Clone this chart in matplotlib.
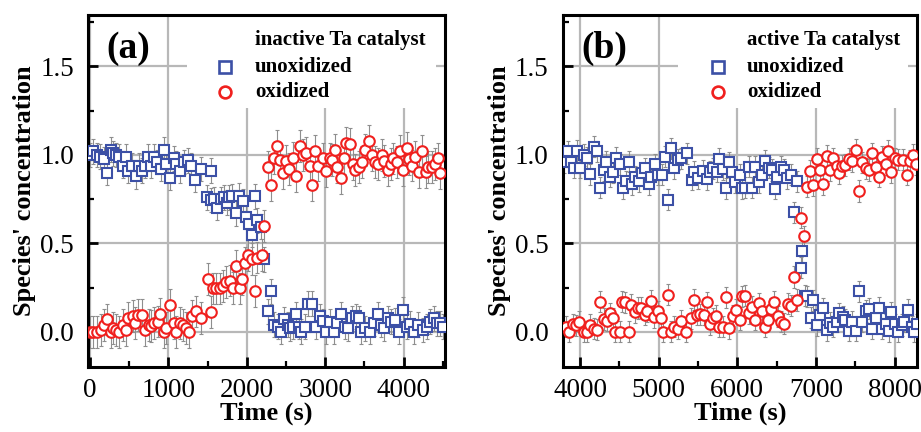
import numpy as np
import matplotlib
matplotlib.use('Agg')
import matplotlib.pyplot as plt
from matplotlib.patches import Rectangle
from matplotlib.ticker import MultipleLocator

plt.rcParams['font.family'] = ['Liberation Serif', 'DejaVu Serif']

# ---- panel (a): inactive catalyst ----
a_unox_t = [0, 40, 90, 130, 180, 220, 265, 300, 335, 375, 420, 460, 490, 540, 585, 630, 670, 705, 740, 780,
            820, 860, 900, 950, 975, 1020, 1070, 1100, 1145, 1200, 1250, 1290, 1345, 1420, 1545,
            1495, 1540, 1580, 1625, 1665, 1710, 1750, 1775, 1815, 1860, 1900, 1945, 1985, 2025, 2065, 2105,
            2135, 2180, 2220, 2265, 2310,
            2350, 2393, 2436, 2479, 2521, 2550, 2585, 2628, 2660, 2692, 2744, 2778, 2833, 2876, 2927, 2970,
            3013, 3055, 3110, 3153, 3196, 3247, 3290, 3341, 3397, 3427, 3461, 3512, 3568, 3623, 3666, 3709,
            3751, 3794, 3837, 3888, 3939, 3986, 4037, 4080, 4136, 4187, 4242, 4294, 4336, 4392, 4422, 4464, 4500]
a_unox_v = [1.00, 1.02, 1.00, 0.99, 0.975, 0.90, 1.03, 1.01, 1.00, 0.99, 0.94, 0.99, 0.91, 0.94, 0.88, 0.94,
            0.91, 0.94, 0.99, 0.94, 0.99, 0.96, 0.92, 1.03, 0.95, 0.87, 0.98, 0.95, 0.91, 0.96, 0.97, 0.94,
            0.86, 0.92, 0.91,
            0.76, 0.745, 0.75, 0.70, 0.75, 0.76, 0.73, 0.76, 0.765, 0.67, 0.77, 0.74, 0.65, 0.61, 0.55, 0.765,
            0.63, 0.595, 0.41, 0.115, 0.23,
            0.04, 0.03, 0.0, 0.07, 0.04, 0.02, 0.03, 0.10, 0.03, 0.0, 0.03, 0.16, 0.16, 0.03, 0.087, 0.06,
            0.0, 0.058, 0.0, 0.049, 0.10, 0.03, 0.02, 0.077, 0.087, 0.077, 0.0, 0.02, 0.0, 0.049, 0.10, 0.04,
            0.02, 0.077, 0.058, 0.065, 0.0, 0.124, 0.03, 0.045, 0.0, 0.04, 0.01, 0.03, 0.058, 0.077, 0.049,
            0.049, 0.03]

a_ox_t = [0, 43, 94, 137, 179, 222, 265, 299, 333, 376, 419, 462, 491, 543, 577, 607, 662, 705, 748, 782,
          821, 863, 897, 949, 974, 1017, 1068, 1103, 1145, 1188, 1231, 1269, 1303, 1346, 1419, 1547,
          1509, 1568, 1611, 1654, 1697, 1739, 1782, 1825, 1868, 1910, 1944, 1979, 2021, 2064, 2107, 2124,
          2192, 2222,
          2265, 2308, 2350, 2380, 2423, 2466, 2500, 2543, 2594, 2628, 2679, 2722, 2756, 2799, 2833, 2868,
          2906, 2970, 3013, 3055, 3085, 3119, 3153, 3196, 3239, 3269, 3311, 3354, 3384, 3427, 3469, 3512,
          3555, 3597, 3632, 3674, 3717, 3751, 3794, 3837, 3866, 3909, 3952, 3994, 4037, 4067, 4110, 4144,
          4195, 4238, 4281, 4315, 4358, 4400, 4434, 4464]
a_ox_v = [0.0, 0.0, 0.0, 0.01, 0.04, 0.07, 0.0, 0.02, 0.01, 0.0, 0.04, 0.01, 0.077, 0.087, 0.049, 0.096,
          0.096, 0.01, 0.04, 0.034, 0.049, 0.058, 0.10, 0.0, 0.02, 0.15, 0.049, 0.0, 0.049, 0.04, 0.02, 0.0,
          0.087, 0.115, 0.077, 0.11,
          0.30, 0.245, 0.245, 0.245, 0.26, 0.28, 0.29, 0.25, 0.37, 0.245, 0.30, 0.39, 0.435, 0.41, 0.23, 0.42,
          0.435, 0.60,
          0.93, 0.83, 0.98, 1.05, 0.97, 0.90, 0.966, 0.92, 0.985, 0.88, 1.05, 1.0, 1.01, 0.94, 0.83, 1.02,
          0.94, 0.98, 0.91, 0.98, 0.97, 1.03, 0.93, 0.87, 0.98, 1.07, 1.06, 0.95, 0.915, 0.93, 0.96, 1.03,
          1.08, 1.0, 0.96, 0.95, 1.0, 0.966, 0.915, 0.95, 0.98, 0.96, 1.02, 0.915, 1.04, 0.976, 0.94, 0.99,
          0.905, 1.02, 0.905, 0.93, 0.93, 0.95, 0.98, 0.90]

# ---- panel (b): active catalyst ----
b_unox_t = [3800, 3850, 3884, 3927, 3961, 4004, 4046, 4089, 4132, 4174, 4217, 4260, 4303, 4332, 4375, 4418,
            4461, 4503, 4546, 4589, 4623, 4661, 4704, 4747, 4789, 4832, 4875, 4909, 4952, 4994, 5037, 5080,
            5122, 5157, 5199, 5242,
            5290, 5363, 5418, 5448, 5504, 5559, 5611, 5653, 5696, 5739, 5773, 5816, 5858, 5901, 5931, 5974,
            6029, 6059, 6102, 6144, 6187, 6230, 6272, 6315, 6358, 6401, 6443, 6486, 6507, 6550, 6593, 6635,
            6678, 6721, 6764, 6808, 6828, 6857,
            6893, 6936, 6966, 7009, 7051, 7094, 7137, 7180, 7222, 7265, 7299, 7342, 7376, 7419, 7461, 7504,
            7547, 7589, 7632, 7675, 7718, 7760, 7803, 7846, 7888, 7931, 7961, 8004, 8046, 8089, 8119, 8174,
            8217, 8247, 8281]
b_unox_v = [0.96, 1.02, 0.962, 0.928, 1.022, 0.928, 1.0, 0.985, 0.89, 1.047, 1.02, 0.815, 0.915, 0.962,
            0.877, 0.902, 0.985, 0.947, 0.811, 0.85, 0.962, 0.834, 0.877, 0.85, 0.896, 0.924, 0.834, 0.877,
            0.947, 0.887, 0.887, 0.99, 0.746, 1.038, 0.924, 0.972,
            0.981, 1.009, 0.859, 0.906, 0.868, 0.909, 0.864, 0.906, 0.924, 0.906, 0.977, 0.92, 0.811, 0.958,
            0.902, 0.845, 0.887, 0.811, 0.815, 0.934, 0.815, 0.934, 0.845, 0.887, 0.966, 0.928, 0.915, 0.808,
            0.877, 0.934, 0.915, 0.868, 0.887, 0.676, 0.85, 0.363, 0.457, 0.205,
            0.20, 0.08, 0.178, 0.039, 0.095, 0.132, 0.01, 0.05, 0.03, 0.058, 0.105, 0.086, 0.067, 0.006,
            0.058, 0.006, 0.228, 0.058, 0.118, 0.13, 0.017, 0.077, 0.137, 0.017, 0.043, 0.002, 0.111, 0.043,
            0.0, 0.039, 0.058, 0.124, 0.03, 0.0, 0.043]

b_ox_t = [3820, 3863, 3905, 3948, 3991, 4046, 4089, 4132, 4174, 4217, 4260, 4303, 4345, 4375, 4418, 4448,
          4503, 4533, 4576, 4619, 4653, 4695, 4738, 4781, 4823, 4858, 4900, 4943, 4994, 5028, 5058, 5114,
          5157, 5199, 5242,
          5290, 5354, 5406, 5448, 5482, 5525, 5576, 5611, 5653, 5696, 5730, 5773, 5816, 5858, 5901, 5944,
          5986, 6029, 6059, 6102, 6144, 6187, 6230, 6272, 6315, 6358, 6388, 6430, 6473, 6516, 6551, 6594,
          6645, 6679, 6721, 6765, 6808, 6850,
          6893, 6923, 6966, 7009, 7051, 7094, 7137, 7180, 7222, 7265, 7299, 7333, 7376, 7419, 7461, 7504,
          7547, 7589, 7632, 7675, 7718, 7760, 7803, 7846, 7888, 7918, 7961, 8004, 8046, 8102, 8162, 8196,
          8238, 8272]
b_ox_v = [0.030, 0.0, 0.043, 0.036, 0.058, 0.0, 0.0, 0.039, 0.017, 0.011, 0.171, 0.073, 0.062, 0.105,
          0.077, 0.0, 0.0, 0.171, 0.167, 0.0, 0.153, 0.111, 0.134, 0.137, 0.096, 0.115, 0.175, 0.081, 0.115,
          0.077, 0.0, 0.209, 0.0, 0.030, 0.017,
          0.062, 0.0, 0.077, 0.181, 0.096, 0.1, 0.096, 0.167, 0.043, 0.077, 0.092, 0.03, 0.03, 0.194, 0.021,
          0.092, 0.124, 0.068, 0.2, 0.205, 0.105, 0.143, 0.068, 0.162, 0.115, 0.03, 0.068, 0.13, 0.171,
          0.087, 0.058, 0.045, 0.158, 0.147, 0.31, 0.18, 0.646, 0.54,
          0.82, 0.91, 0.83, 0.977, 0.915, 0.834, 0.996, 0.915, 0.981, 0.94, 0.896, 0.94, 0.943, 0.977, 0.966,
          1.028, 0.796, 0.958, 0.924, 0.915, 1.009, 0.934, 0.877, 0.99, 0.947, 1.022, 0.902, 0.981, 0.972,
          0.972, 0.889, 0.966, 1.0, 0.947]

# error bar half-widths (roughly constant per series)
a_unox_err, a_ox_err = 0.07, 0.09
b_unox_err, b_ox_err = 0.06, 0.06

BLUE = '#3c50a6'
RED = '#f0201e'
GRAY = '#8e8e8e'


def draw_panel(ax, ut, uv, ue, ot, ov, oe, xlim, letter, title, leg_x0, mk_x, txt_x):
    ax.errorbar(ut, uv, yerr=ue, fmt='none', ecolor=GRAY, elinewidth=0.8,
                capsize=1.5, capthick=0.8, zorder=2)
    ax.errorbar(ot, ov, yerr=oe, fmt='none', ecolor=GRAY, elinewidth=0.8,
                capsize=1.5, capthick=0.8, zorder=2)
    ax.plot(ut, uv, ls='none', marker='s', ms=7, mfc='white', mec=BLUE, mew=1.5, zorder=3)
    ax.plot(ot, ov, ls='none', marker='o', ms=7.6, mfc='white', mec=RED, mew=1.5, zorder=4)

    ax.set_xlim(*xlim)
    ax.set_ylim(-0.2, 1.79)
    ax.xaxis.set_major_locator(MultipleLocator(1000))
    ax.xaxis.set_minor_locator(MultipleLocator(500))
    ax.yaxis.set_major_locator(MultipleLocator(0.5))
    ax.yaxis.set_minor_locator(MultipleLocator(0.25))
    ax.tick_params(which='major', direction='in', length=7, width=2, labelsize=19.5)
    ax.tick_params(axis='x', which='major', pad=8)
    ax.tick_params(axis='y', which='major', pad=10)
    ax.tick_params(which='minor', direction='in', length=4, width=1.6)
    for s in ax.spines.values():
        s.set_linewidth(2.2)
    ax.set_axisbelow(True)
    ax.grid(True, which='major', color='#b8b8b8', lw=1.6)

    ax.set_xlabel('Time (s)', fontsize=19, fontweight='bold', labelpad=-1)
    ax.set_ylabel("Species' concentration", fontsize=19, fontweight='bold', labelpad=3)

    # white legend area hiding the grid
    ax.add_patch(Rectangle((leg_x0, 0.736), 0.975 - leg_x0, 0.264, transform=ax.transAxes,
                           facecolor='white', edgecolor='none', zorder=1))
    ax.text(0.052, 0.905, letter, transform=ax.transAxes, fontsize=27, fontweight='bold',
            va='center', ha='left')
    ax.text(txt_x, 0.929, title, transform=ax.transAxes, fontsize=15, fontweight='bold',
            va='center', ha='left')
    ax.plot([mk_x], [0.852], transform=ax.transAxes, marker='s', ms=8, mfc='white',
            mec=BLUE, mew=1.9, clip_on=False, zorder=5)
    ax.plot([mk_x], [0.781], transform=ax.transAxes, marker='o', ms=8.5, mfc='white',
            mec=RED, mew=1.9, clip_on=False, zorder=5)
    ax.text(txt_x, 0.852, 'unoxidized', transform=ax.transAxes, fontsize=15,
            fontweight='bold', va='center', ha='left')
    ax.text(txt_x, 0.781, 'oxidized', transform=ax.transAxes, fontsize=15,
            fontweight='bold', va='center', ha='left')


fig = plt.figure(figsize=(9.21, 4.32), dpi=100)
ax_a = fig.add_axes([0.0955, 0.150, 0.388, 0.815])
ax_b = fig.add_axes([0.611, 0.150, 0.385, 0.815])

draw_panel(ax_a, a_unox_t, a_unox_v, a_unox_err, a_ox_t, a_ox_v, a_ox_err,
           (-25, 4530), '(a)', 'inactive Ta catalyst', 0.277, 0.384, 0.468)
draw_panel(ax_b, b_unox_t, b_unox_v, b_unox_err, b_ox_t, b_ox_v, b_ox_err,
           (3780, 8290), '(b)', 'active Ta catalyst', 0.325, 0.438, 0.52)

fig.savefig('out.png', dpi=100)
